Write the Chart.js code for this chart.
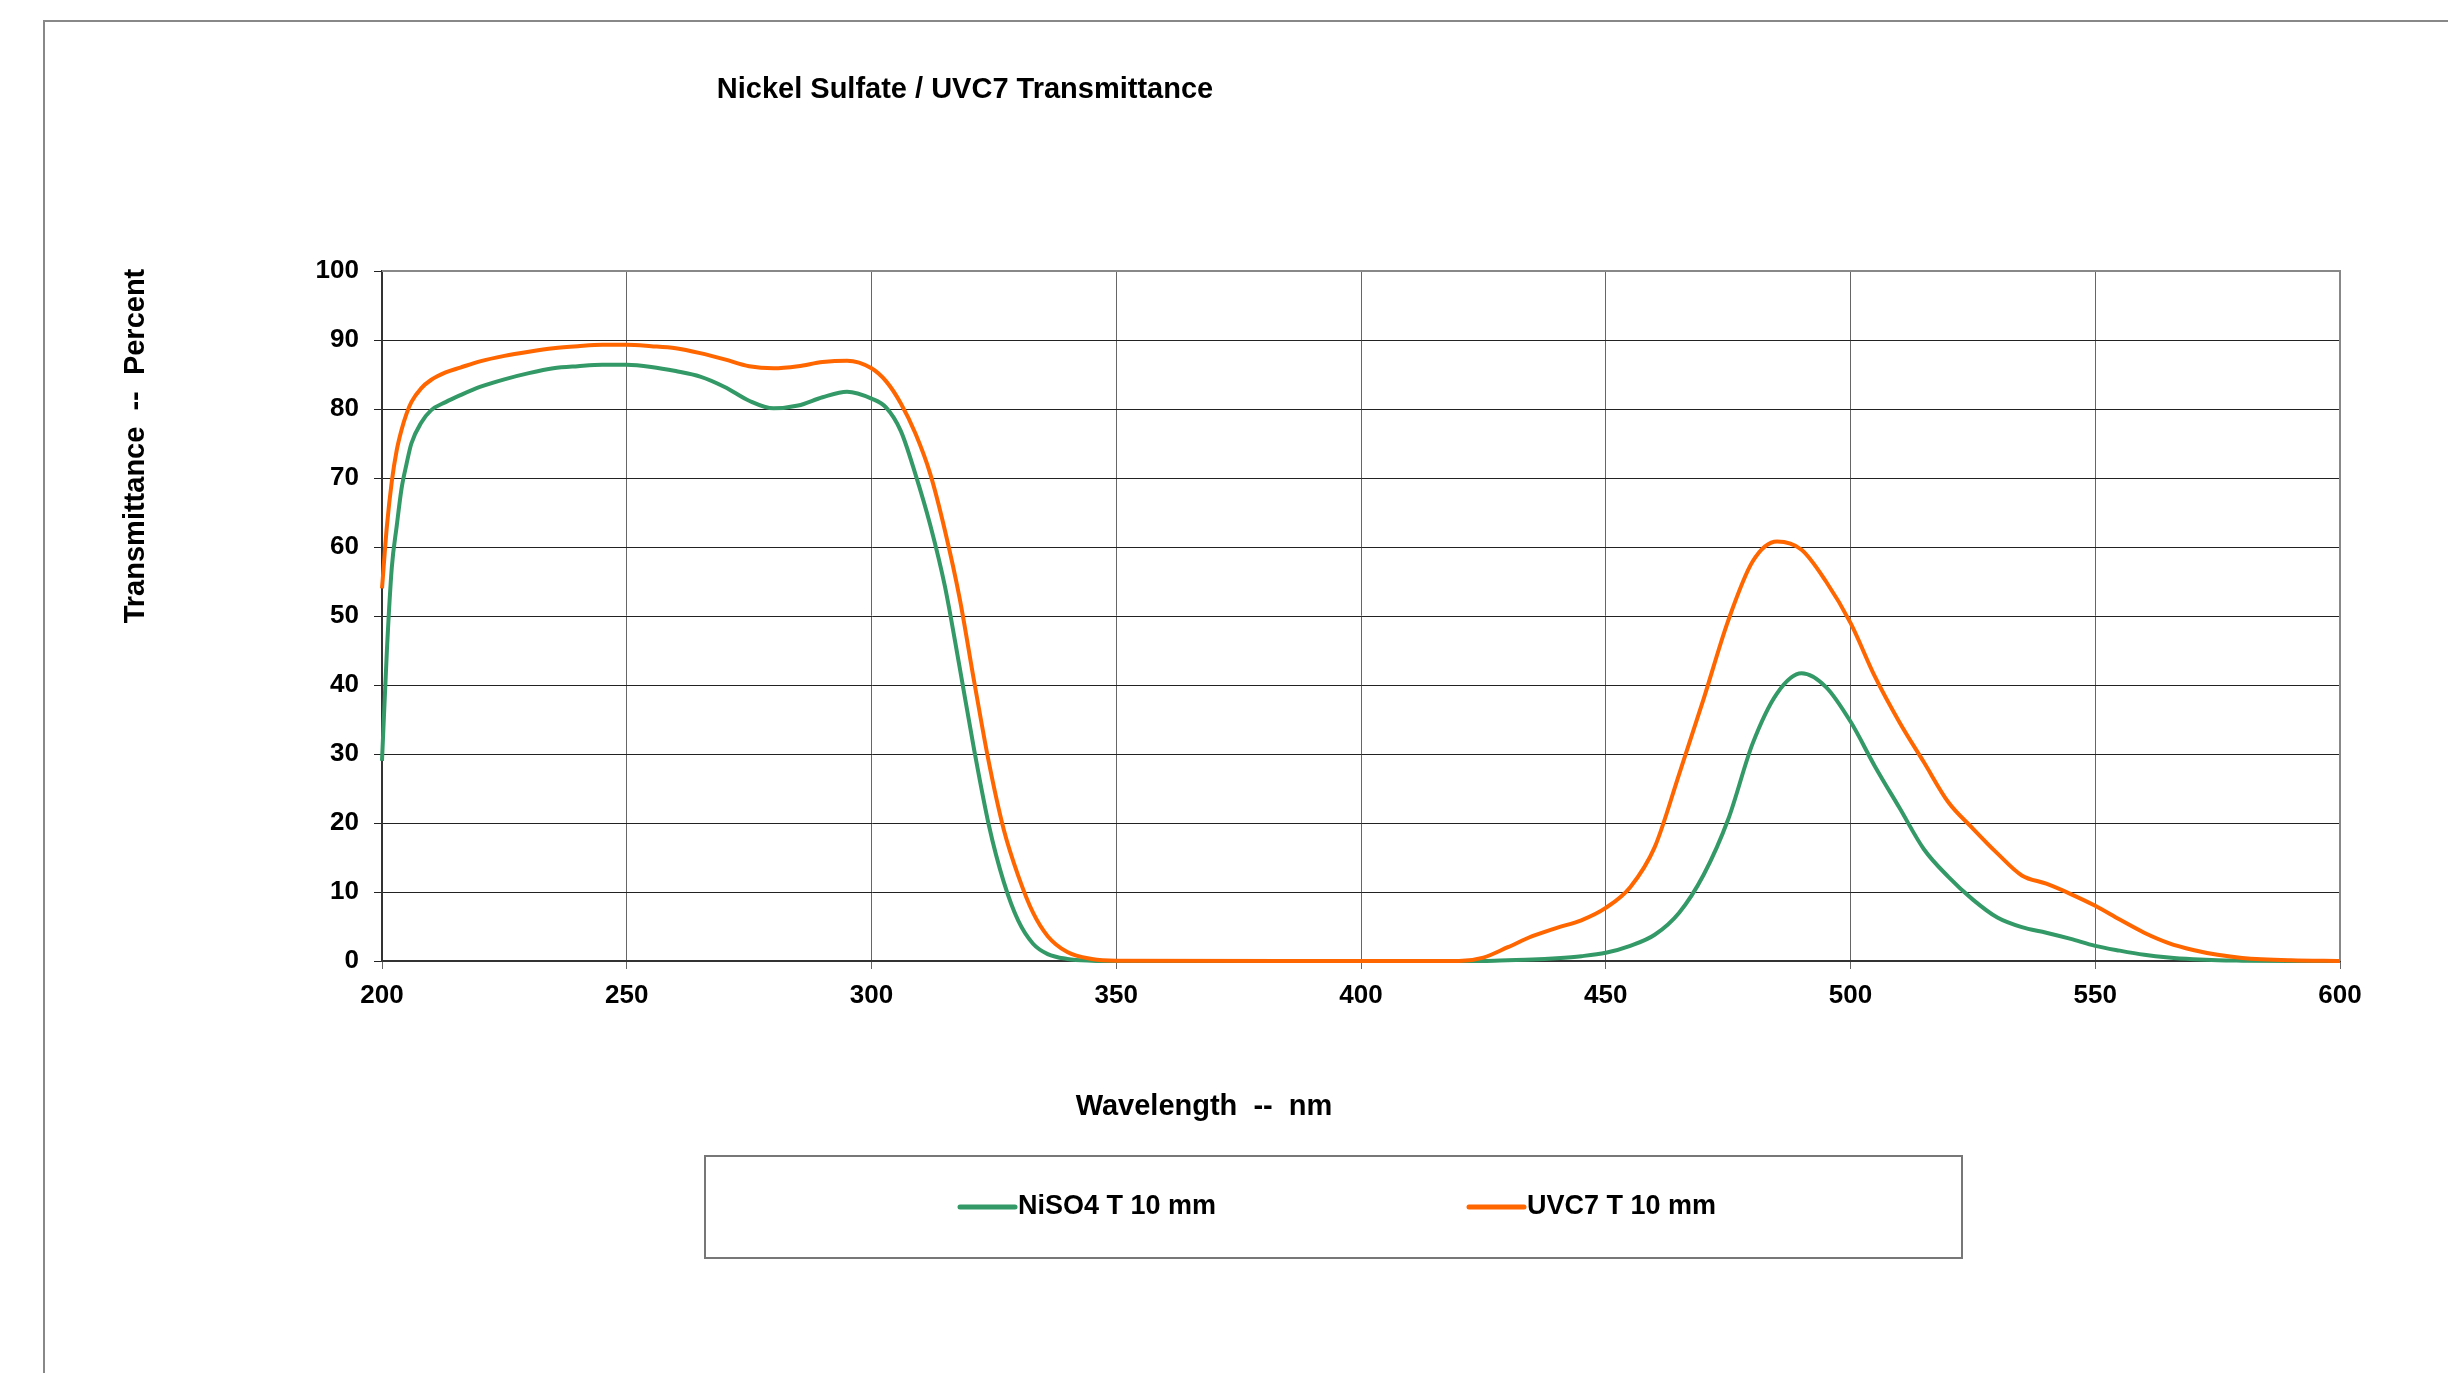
<!DOCTYPE html>
<html>
<head>
<meta charset="utf-8">
<title>Nickel Sulfate / UVC7 Transmittance</title>
<script src="https://cdn.jsdelivr.net/npm/chart.js@4.4.1/dist/chart.umd.min.js"></script>
<style>
	html, body { margin: 0; padding: 0; background: #fff; }
	#wrap { position: relative; width: 2448px; height: 1373px; }
</style>
</head>
<body>
<div id="wrap"><canvas id="mycanvas"></canvas></div>
<script>
// wavelength grid (nm)
var wavelengths = [200, 201, 202, 203, 204, 205, 206, 208, 210, 213, 216, 220, 225, 230, 235, 240, 245, 250, 255, 260,
	265, 270, 275, 280, 285, 290, 295, 300, 303, 306, 309, 312, 315, 318, 321, 324, 327, 330, 333, 336, 340, 345, 350,
	400, 420, 425, 430, 435, 440, 445, 450, 455, 460, 465, 470, 475, 480, 485, 490, 495, 500, 505, 510, 515, 520, 525,
	530, 535, 540, 545, 550, 555, 560, 565, 570, 575, 580, 590, 600];

// transmittance in percent
var niso4 = [29, 45, 57, 63, 68.5, 72, 75, 78, 79.8, 81, 82, 83.2, 84.3, 85.2, 85.9, 86.2, 86.4, 86.4, 86.1, 85.5,
	84.7, 83.2, 81.2, 80.1, 80.5, 81.7, 82.5, 81.5, 80.2, 76.8, 70.5, 63.2, 54.3, 42.6, 30.5, 19.6, 11.5, 5.8, 2.5, 1.0, 0.3, 0.05, 0,
	0, 0, 0, 0.1, 0.2, 0.4, 0.7, 1.2, 2.2, 3.8, 7, 12.5, 20.5, 31.5, 38.8, 41.7, 39.7, 34.7, 28.2, 22.2, 16.2, 12.2, 8.9,
	6.3, 4.9, 4.1, 3.2, 2.2, 1.5, 0.9, 0.5, 0.25, 0.1, 0.05, 0, 0];

var uvc7 = [54, 63, 69.5, 74, 77, 79.3, 81, 83, 84.2, 85.3, 86, 86.9, 87.7, 88.3, 88.8, 89.1, 89.3, 89.3, 89.1, 88.8,
	88.1, 87.2, 86.2, 85.9, 86.2, 86.8, 87.0, 85.9, 84, 80.8, 76.4, 70.6, 62.4, 52.6, 40.4, 28.7, 19.1, 12.3, 7.0, 3.6, 1.3, 0.3, 0.05,
	0, 0, 0.5, 2.0, 3.6, 4.8, 5.9, 7.7, 10.7, 16.5, 27.1, 38, 49.3, 57.9, 60.8, 59.6, 55, 49, 41.2, 34.6, 28.8, 23, 19.2,
	15.6, 12.4, 11.2, 9.7, 8, 6, 4.1, 2.6, 1.6, 0.9, 0.45, 0.1, 0];

var seriesNames = ['NiSO4 T 10 mm', 'UVC7 T 10 mm'];
var seriesColors = ['#339966', '#ff6600'];
var xTicks = [200, 250, 300, 350, 400, 450, 500, 550, 600];
var yTicks = [0, 10, 20, 30, 40, 50, 60, 70, 80, 90, 100];

var chartTitle = 'Nickel Sulfate / UVC7 Transmittance';
var xTitle = 'Wavelength  --  nm';
var yTitle = 'Transmittance  --  Percent';

var FONT = '"Liberation Sans", Arial, sans-serif';

function toPoints(ys) {
	var pts = [];
	for (var i in wavelengths) {
		pts.push({ x: wavelengths[i], y: ys[i] });
	}
	return pts;
}

// titles, frame and boxed legend are drawn by hand
var decorations = {
	id: 'decorations',
	beforeDraw: function(chart) {
		var ctx = chart.ctx;
		ctx.save();
		ctx.strokeStyle = '#888';
		ctx.lineWidth = 2;
		ctx.beginPath();
		ctx.moveTo(44, chart.height);
		ctx.lineTo(44, 21);
		ctx.lineTo(chart.width, 21);
		ctx.stroke();
		ctx.restore();
	},
	beforeDatasetsDraw: function(chart) {
		var ctx = chart.ctx;
		var a = chart.chartArea;
		ctx.save();
		ctx.strokeStyle = '#888';
		ctx.lineWidth = 2;
		ctx.beginPath();
		ctx.moveTo(a.left, a.top);
		ctx.lineTo(a.right, a.top);
		ctx.lineTo(a.right, a.bottom);
		ctx.stroke();
		ctx.restore();
	},
	afterDraw: function(chart) {
		var ctx = chart.ctx;
		ctx.save();
		ctx.fillStyle = '#000';
		ctx.textBaseline = 'middle';
		ctx.textAlign = 'center';

		ctx.font = 'bold 29px ' + FONT;
		ctx.fillText(chartTitle, 965, 90);

		ctx.font = 'bold 29px ' + FONT;
		ctx.fillText(xTitle, 1204, 1107);

		ctx.save();
		ctx.translate(136, 446);
		ctx.rotate(-Math.PI / 2);
		ctx.fillText(yTitle, 0, 0);
		ctx.restore();

		// legend box
		ctx.strokeStyle = '#777';
		ctx.lineWidth = 2;
		ctx.strokeRect(705, 1156, 1257, 102);

		var itemX = [960, 1469];
		ctx.font = 'bold 27px ' + FONT;
		ctx.textAlign = 'left';
		chart.data.datasets.forEach(function(ds, i) {
			ctx.strokeStyle = ds.borderColor;
			ctx.lineWidth = 5;
			ctx.lineCap = 'round';
			ctx.beginPath();
			ctx.moveTo(itemX[i], 1207);
			ctx.lineTo(itemX[i] + 55, 1207);
			ctx.stroke();
			ctx.fillText(ds.label, itemX[i] + 58, 1207);
		});
		ctx.restore();
	}
};

var chartdata = {
	datasets: [
		{
			label: seriesNames[0],
			data: toPoints(niso4),
			borderColor: seriesColors[0],
			backgroundColor: seriesColors[0],
			borderWidth: 4,
			order: 1
		},
		{
			label: seriesNames[1],
			data: toPoints(uvc7),
			borderColor: seriesColors[1],
			backgroundColor: seriesColors[1],
			borderWidth: 4,
			order: 0
		}
	]
};

var ctx = document.getElementById('mycanvas');

var lineGraph = new Chart(ctx, {
	type: 'line',
	data: chartdata,
	plugins: [decorations],
	options: {
		responsive: true,
		maintainAspectRatio: false,
		animation: false,
		events: [],
		layout: { padding: { top: 271, right: 108, bottom: 0, left: 0 } },
		elements: {
			point: { radius: 0 },
			line: { cubicInterpolationMode: 'monotone', fill: false }
		},
		datasets: { line: { clip: 6 } },
		plugins: {
			legend: { display: false },
			title: { display: false },
			tooltip: { enabled: false }
		},
		scales: {
			x: {
				type: 'linear',
				min: 200,
				max: 600,
				afterBuildTicks: function(scale) {
					scale.ticks = xTicks.map(function(v) { return { value: v }; });
				},
				afterFit: function(scale) { scale.height = 412; },
				ticks: {
					color: '#000',
					font: { family: FONT, size: 26, weight: 'bold' },
					padding: 11,
					maxRotation: 0
				},
				grid: { color: '#666', lineWidth: 1, tickLength: 8 },
				border: { display: true, color: '#333', width: 2 }
			},
			y: {
				min: 0,
				max: 100,
				afterBuildTicks: function(scale) {
					scale.ticks = yTicks.map(function(v) { return { value: v }; });
				},
				afterFit: function(scale) { scale.width = 382; },
				ticks: {
					color: '#000',
					font: { family: FONT, size: 26, weight: 'bold' },
					padding: 15
				},
				grid: { color: '#222', lineWidth: 1, tickLength: 8 },
				border: { display: true, color: '#333', width: 2 }
			}
		}
	}
});
</script>
</body>
</html>
